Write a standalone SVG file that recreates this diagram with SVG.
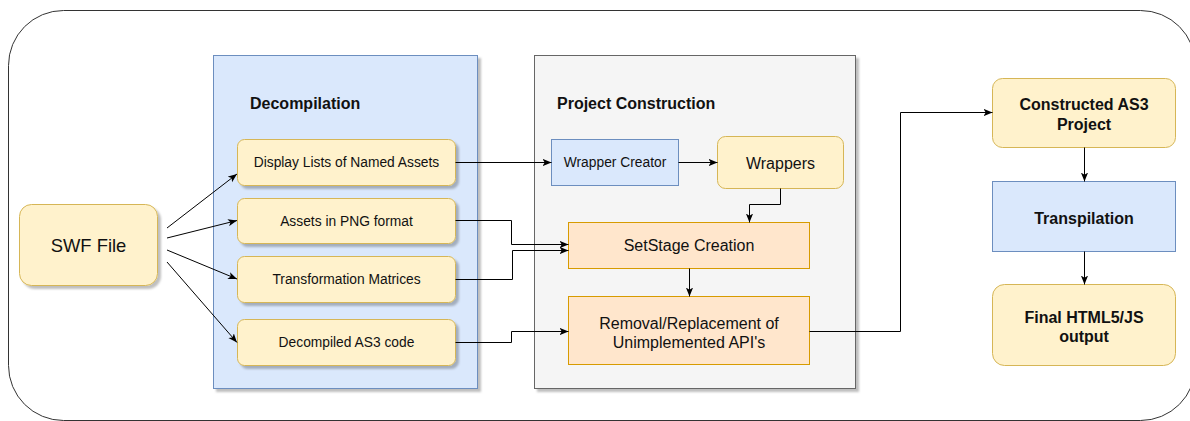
<svg xmlns="http://www.w3.org/2000/svg" width="1190" height="421" viewBox="0 0 1190 421">
  <defs>
    <style>
      text { font-family: "Liberation Sans", Arial, Helvetica, sans-serif; fill: #111; text-anchor: middle; dominant-baseline: central; }
      .sm { font-size: 13.8px; }
      .md { font-size: 16px; }
      .lg { font-size: 18.4px; }
      .b { font-weight: bold; }
      .hdr { font-size: 16px; font-weight: bold; text-anchor: start; }
      .yellow { fill: #fff2cc; stroke: #d6b656; stroke-width: 1; }
      .blue { fill: #dae8fc; stroke: #6c8ebf; stroke-width: 1; }
      .orange { fill: #ffe6cc; stroke: #d79b00; stroke-width: 1; }
      .grey { fill: #f5f5f5; stroke: #666666; stroke-width: 1; }
      .sh { filter: url(#shadow); }
      .edge { fill: none; stroke: #000; stroke-width: 1; marker-end: url(#arrow); }
    </style>
    <filter id="shadow" x="-10%" y="-10%" width="130%" height="130%">
      <feDropShadow dx="3" dy="3" stdDeviation="1" flood-color="#000" flood-opacity="0.25"/>
    </filter>
    <marker id="arrow" viewBox="0 0 10 8" refX="10" refY="4" markerWidth="9" markerHeight="8" markerUnits="userSpaceOnUse" orient="auto">
      <path d="M0,0 L10,4 L0,8 L2.5,4 Z" fill="#000"/>
    </marker>
  </defs>

  <!-- outer frame -->
  <rect x="8.5" y="10.5" width="1187" height="410" rx="55" ry="55" fill="#fff" stroke="#333" stroke-width="1"/>

  <!-- stage containers -->
  <g id="decompilation">
    <rect class="blue sh" x="213.5" y="55.5" width="264" height="333"/>
    <text class="hdr" x="250" y="103">Decompilation</text>
  </g>
  <g id="project-construction">
    <rect class="grey sh" x="534.5" y="55.5" width="321" height="333"/>
    <text class="hdr" x="557" y="103">Project Construction</text>
  </g>

  <!-- nodes -->
  <g id="swf-file">
    <rect class="yellow sh" x="19.5" y="204.5" width="138" height="81" rx="12" ry="12"/>
    <text class="lg" x="88.5" y="245">SWF File</text>
  </g>
  <g id="display-lists">
    <rect class="yellow sh" x="237.5" y="139.5" width="218" height="46" rx="7" ry="7"/>
    <text class="sm" x="346.5" y="162.5">Display Lists of Named Assets</text>
  </g>
  <g id="assets-png">
    <rect class="yellow sh" x="237.5" y="198.5" width="218" height="45" rx="7" ry="7"/>
    <text class="sm" x="346.5" y="221">Assets in PNG format</text>
  </g>
  <g id="transformation-matrices">
    <rect class="yellow sh" x="237.5" y="256.5" width="218" height="46" rx="7" ry="7"/>
    <text class="sm" x="346.5" y="279.5">Transformation Matrices</text>
  </g>
  <g id="decompiled-code">
    <rect class="yellow sh" x="237.5" y="319.5" width="218" height="46" rx="7" ry="7"/>
    <text class="sm" x="346.5" y="342.5">Decompiled AS3 code</text>
  </g>
  <g id="wrapper-creator">
    <rect class="blue" x="551.5" y="139.5" width="127" height="46"/>
    <text class="sm" x="615" y="162.5">Wrapper Creator</text>
  </g>
  <g id="wrappers">
    <rect class="yellow" x="717.5" y="136.5" width="126" height="52" rx="8" ry="8"/>
    <text class="md" x="780.5" y="163">Wrappers</text>
  </g>
  <g id="setstage">
    <rect class="orange" x="568.5" y="222.5" width="241" height="46"/>
    <text class="md" x="689" y="245.5">SetStage Creation</text>
  </g>
  <g id="removal">
    <rect class="orange" x="568.5" y="296.5" width="241" height="68"/>
    <text class="md" x="689" y="323">Removal/Replacement of</text>
    <text class="md" x="689" y="342.5">Unimplemented API's</text>
  </g>
  <g id="constructed-project">
    <rect class="yellow" x="992.5" y="78.5" width="183" height="69" rx="10" ry="10"/>
    <text class="md b" x="1084" y="104">Constructed AS3</text>
    <text class="md b" x="1084" y="124">Project</text>
  </g>
  <g id="transpilation">
    <rect class="blue" x="992.5" y="181.5" width="183" height="70"/>
    <text class="md b" x="1084" y="218">Transpilation</text>
  </g>
  <g id="final-output">
    <rect class="yellow" x="992.5" y="284.5" width="183" height="81" rx="12" ry="12"/>
    <text class="md b" x="1084" y="317">Final HTML5/JS</text>
    <text class="md b" x="1084" y="336">output</text>
  </g>

  <!-- connectors -->
  <g id="connectors">
    <path class="edge" d="M167,228 L237,174"/>
    <path class="edge" d="M167,238 L237,220.5"/>
    <path class="edge" d="M167,250 L237,279"/>
    <path class="edge" d="M167,262 L237,342.5"/>
    <path class="edge" d="M455.5,162.5 L551.5,162.5"/>
    <path class="edge" d="M678.5,162.5 L717.5,162.5"/>
    <path class="edge" d="M780.5,188.5 L780.5,204.5 L749.5,204.5 L749.5,222.5"/>
    <path class="edge" d="M455.5,220.5 L511.5,220.5 L511.5,244.5 L568.5,244.5"/>
    <path class="edge" d="M455.5,279.5 L512.5,279.5 L512.5,250.5 L568.5,250.5"/>
    <path class="edge" d="M455.5,342.5 L511.5,342.5 L511.5,331.5 L568.5,331.5"/>
    <path class="edge" d="M689.5,268.5 L689.5,296.5"/>
    <path class="edge" d="M809.5,331.5 L900.5,331.5 L900.5,112.5 L992.5,112.5"/>
    <path class="edge" d="M1084.5,147.5 L1084.5,181.5"/>
    <path class="edge" d="M1084.5,251.5 L1084.5,284.5"/>
  </g>
</svg>
